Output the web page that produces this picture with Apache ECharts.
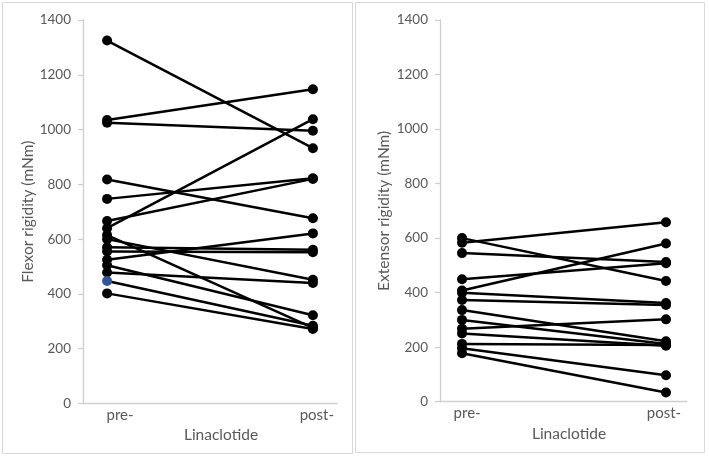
<!DOCTYPE html>
<html>
<head>
<meta charset="utf-8">
<script src="https://cdn.jsdelivr.net/npm/echarts@6/dist/echarts.min.js"></script>
<style>
html,body{margin:0;padding:0;background:#fff;}
#chart{width:709px;height:458px;}
</style>
</head>
<body>
<div id="chart"></div>
<script>
// ---- data ----
const conditions = ['pre-', 'post-'];
const xTitle = 'Linaclotide';
const leftTitle = 'Flexor rigidity (mNm)';
const rightTitle = 'Extensor rigidity (mNm)';
const yMin = 0, yMax = 1400, yStep = 200;

const flexorPre  = [1325, 1035, 1025, 818, 747, 666, 640, 615, 600, 570, 555, 525, 505, 478, 447, 402];
const flexorPost = [ 932, 1147,  996, 676, 822, 820, 1038, 276, 452, 561, 552, 621, 322, 440, 284, 272];
const flexorHighlight = 14; // subject whose pre- marker is blue

const extensorPre  = [600, 583, 545, 449, 408, 400, 373, 336, 300, 268, 250, 212, 196, 178];
const extensorPost = [443, 658, 512, 508, 580, 362, 355, 222, 212, 302, 205, 208,  97,  34];

// ---- styles ----
const TXT = '#595959';
const AX = '#cfcfcf';
const FONT = 'Lato';

function subjectSeries(pre, post, axisIdx, highlight) {
  return pre.map((p, i) => ({
    type: 'line',
    xAxisIndex: axisIdx,
    yAxisIndex: axisIdx,
    symbol: 'circle',
    symbolSize: 10,
    showSymbol: true,
    lineStyle: { color: '#000', width: 2.5 },
    itemStyle: { color: '#000' },
    emphasis: { disabled: true },
    data: [
      i === highlight ? { value: [1, p], itemStyle: { color: '#2F5597' } } : [1, p],
      [2, post[i]]
    ]
  }));
}

function xAxis(gridIndex, min, max, labelPos, namePad) {
  return {
    type: 'value', gridIndex, min, max,
    name: xTitle, nameLocation: 'middle', nameGap: 20,
    nameTextStyle: { color: TXT, fontSize: 15.5, fontFamily: FONT, padding: namePad },
    axisLine: { show: true, lineStyle: { color: AX, width: 1.3 } },
    axisTick: { show: false },
    splitLine: { show: false },
    axisLabel: {
      customValues: labelPos,
      formatter: v => (v < 1.5 ? conditions[0] : conditions[1]),
      color: TXT, fontSize: 15, fontFamily: FONT, margin: 4
    }
  };
}
function yAxis(gridIndex, name, gap) {
  return {
    type: 'value', gridIndex, min: yMin, max: yMax, interval: yStep,
    name, nameLocation: 'middle', nameGap: gap, nameRotate: 90,
    nameTextStyle: { color: TXT, fontSize: 15.5, fontFamily: FONT },
    axisLine: { show: true, lineStyle: { color: AX, width: 1.3 } },
    axisTick: { show: true, length: 5, inside: false, lineStyle: { color: AX, width: 1.3 } },
    splitLine: { show: false },
    axisLabel: { color: TXT, fontSize: 13.5, fontFamily: FONT, margin: 12, formatter: v => String(v) }
  };
}

const chart = echarts.init(document.getElementById('chart'), null, { renderer: 'canvas' });
chart.setOption({
  animation: false,
  backgroundColor: '#fff',
  grid: [
    { left: 83, right: 709 - 337, top: 20, bottom: 458 - 403.5 },
    { left: 440, right: 709 - 687, top: 20, bottom: 458 - 401.7 }
  ],
  xAxis: [
    xAxis(0, 0.883, 2.117, [1.063, 2.019], [0, 0, 0, 22]),
    xAxis(1, 0.892, 2.103, [1.025, 1.99], [0, 0, 0, 11])
  ],
  yAxis: [
    yAxis(0, leftTitle, 47),
    yAxis(1, rightTitle, 48)
  ],
  graphic: [
    { type: 'rect', shape: { x: 2.5, y: 2.5, width: 350, height: 451 }, style: { fill: null, stroke: '#d9d9d9', lineWidth: 1 }, silent: true },
    { type: 'rect', shape: { x: 355.5, y: 2.5, width: 349, height: 450 }, style: { fill: null, stroke: '#d9d9d9', lineWidth: 1 }, silent: true }
  ],
  series: [
    ...subjectSeries(flexorPre, flexorPost, 0, flexorHighlight),
    ...subjectSeries(extensorPre, extensorPost, 1, -1)
  ]
});
</script>
</body>
</html>
